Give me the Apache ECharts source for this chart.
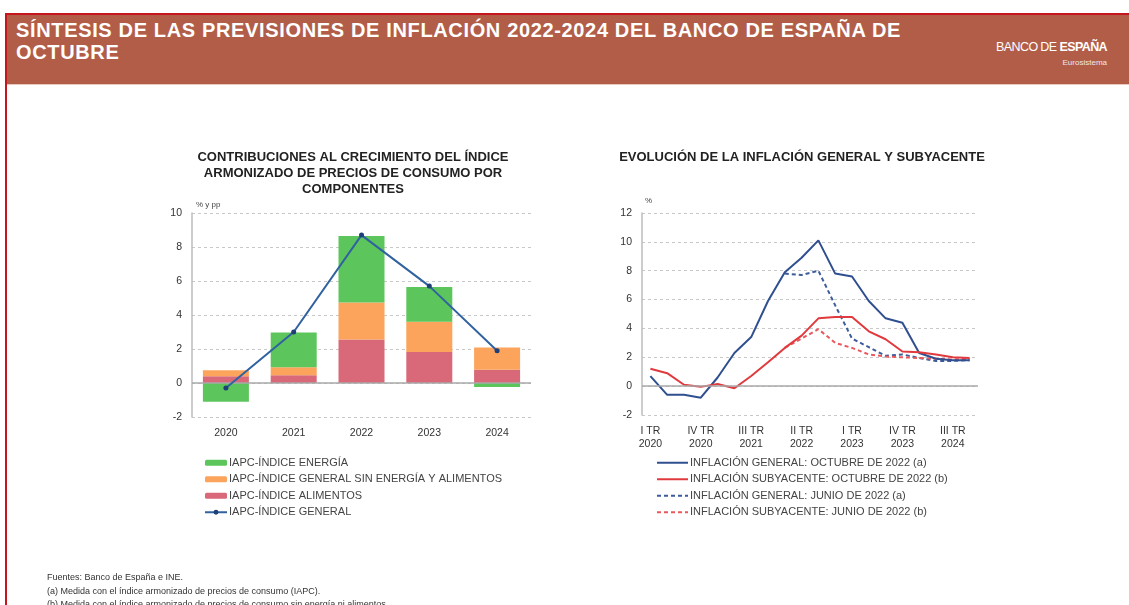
<!DOCTYPE html>
<html>
<head>
<meta charset="utf-8">
<script src="https://cdn.jsdelivr.net/npm/echarts@6/dist/echarts.min.js"></script>
<style>
  html, body { margin: 0; padding: 0; background: #fff; }
  body { width: 1129px; height: 605px; overflow: hidden; position: relative; font-family: "Liberation Sans", Arial, sans-serif; }
  .frame { position: absolute; left: 5px; top: 13px; width: 1130px; height: 600px; border-top: 2px solid #c4161c; border-left: 2px solid #c4161c; }
  .band { position: absolute; left: 7px; top: 15px; width: 1122px; height: 69px; background: #b25d48; border-bottom: 1px solid #e9c9bf; }
  .band h1 { position: absolute; left: 9px; top: 4px; margin: 0; color: #fff; font-size: 20px; line-height: 22px; font-weight: bold; letter-spacing: 0.65px; }
  .logo { position: absolute; right: 22px; top: 25px; color: #fff; font-size: 12.5px; letter-spacing: -0.6px; text-align: right; }
  .logo b { font-weight: bold; }
  .logo small { display: block; font-size: 8px; letter-spacing: 0; opacity: 0.85; margin-top: 4px; }
  #chart { position: absolute; left: 0; top: 0; width: 1129px; height: 605px; }
  .notes { position: absolute; left: 47px; top: 571px; font-size: 9px; line-height: 13.5px; color: #333; }
</style>
</head>
<body>
<div class="frame"></div>
<div class="band">
  <h1>SÍNTESIS DE LAS PREVISIONES DE INFLACIÓN 2022-2024 DEL BANCO DE ESPAÑA DE<br>OCTUBRE</h1>
  <div class="logo">BANCO DE <b>ESPAÑA</b><small>Eurosistema</small></div>
</div>
<div id="chart"></div>
<div class="notes">
  Fuentes: Banco de España e INE.<br>
  (a) Medida con el índice armonizado de precios de consumo (IAPC).<br>
  (b) Medida con el índice armonizado de precios de consumo sin energía ni alimentos.
</div>
<script>
// panel izquierdo: contribuciones (pp)
const years = ['2020', '2021', '2022', '2023', '2024'];
const alimentos = [0.4, 0.45, 2.56, 1.82, 0.78];
const sinEnergia = [0.35, 0.47, 2.18, 1.78, 1.31];
const energia = [-1.1, 2.05, 3.91, 2.04, -0.23];
const general = [-0.3, 3.0, 8.7, 5.7, 1.9];

// panel derecho: trimestres
const quarters = [
  'I TR\n2020', 'II TR\n2020', 'III TR\n2020', 'IV TR\n2020',
  'I TR\n2021', 'II TR\n2021', 'III TR\n2021', 'IV TR\n2021',
  'I TR\n2022', 'II TR\n2022', 'III TR\n2022', 'IV TR\n2022',
  'I TR\n2023', 'II TR\n2023', 'III TR\n2023', 'IV TR\n2023',
  'I TR\n2024', 'II TR\n2024', 'III TR\n2024', 'IV TR\n2024'
];
const generalOct = [0.7, -0.6, -0.6, -0.8, 0.6, 2.3, 3.4, 5.9, 7.9, 8.9, 10.1, 7.8, 7.6, 5.9, 4.7, 4.4, 2.3, 1.9, 1.8, 1.8];
const subyOct = [1.2, 0.9, 0.1, -0.05, 0.15, -0.15, 0.7, 1.65, 2.65, 3.5, 4.7, 4.8, 4.8, 3.8, 3.25, 2.4, 2.35, 2.2, 2.0, 1.95];
const generalJun = [null, null, null, null, null, null, null, null, 7.8, 7.7, 8.0, 5.6, 3.3, 2.7, 2.1, 2.2, 1.95, 1.75, 1.75, 1.8];
const subyJun = [null, null, null, null, null, null, null, null, 2.65, 3.3, 3.95, 3.0, 2.65, 2.2, 2.05, 2.0, 1.95, 1.9, 1.85, 1.9];

const chart = echarts.init(document.getElementById('chart'));

const gridLine = { show: true, lineStyle: { color: '#c8c8c8', type: [3, 3], width: 1 } };
const axisTxt = { color: '#333', fontSize: 10.5, fontFamily: 'Liberation Sans' };
const zeroLine = {
  silent: true, symbol: 'none', label: { show: false },
  lineStyle: { color: '#a9a9a9', type: 'solid', width: 1.5 },
  data: [{ yAxis: 0 }]
};
const blue = '#2f4f8f';
const red = '#e03a3e';
const legendTxt = { color: '#444', fontSize: 11, lineHeight: 11.5, padding: [0, 0, 0, -3] };

chart.setOption({
  animation: false,
  textStyle: { fontFamily: 'Liberation Sans' },
  title: [
    {
      text: 'CONTRIBUCIONES AL CRECIMIENTO DEL ÍNDICE\nARMONIZADO DE PRECIOS DE CONSUMO POR\nCOMPONENTES',
      left: 348, top: 144, textAlign: 'center',
      textStyle: { fontSize: 13, fontWeight: 'bold', color: '#222', lineHeight: 16 }
    },
    {
      text: 'EVOLUCIÓN DE LA INFLACIÓN GENERAL Y SUBYACENTE',
      left: 797, top: 144, textAlign: 'center',
      textStyle: { fontSize: 13, fontWeight: 'bold', color: '#222', lineHeight: 16 }
    }
  ],
  legend: [
    {
      left: 199, top: 452, orient: 'vertical', itemWidth: 22, itemHeight: 6, itemGap: 5,
      selectedMode: false,
      data: ['IAPC-ÍNDICE ENERGÍA', 'IAPC-ÍNDICE GENERAL SIN ENERGÍA Y ALIMENTOS', 'IAPC-ÍNDICE ALIMENTOS', 'IAPC-ÍNDICE GENERAL'],
      textStyle: legendTxt
    },
    {
      left: 651, top: 452, orient: 'vertical', itemWidth: 31, itemHeight: 6, itemGap: 5,
      selectedMode: false, itemStyle: { opacity: 0 },
      data: ['INFLACIÓN GENERAL: OCTUBRE DE 2022 (a)', 'INFLACIÓN SUBYACENTE: OCTUBRE DE 2022 (b)', 'INFLACIÓN GENERAL: JUNIO DE 2022 (a)', 'INFLACIÓN SUBYACENTE: JUNIO DE 2022 (b)'],
      textStyle: legendTxt
    }
  ],
  grid: [
    { left: 192, right: 598, top: 213, bottom: 188 },
    { left: 642, right: 151, top: 213, bottom: 190 }
  ],
  xAxis: [
    {
      gridIndex: 0, type: 'category', data: years,
      axisLine: { show: false }, axisTick: { show: false },
      axisLabel: Object.assign({ margin: 11 }, axisTxt)
    },
    {
      gridIndex: 1, type: 'category', data: quarters, boundaryGap: true,
      axisLine: { show: false }, axisTick: { show: false },
      axisLabel: Object.assign({ interval: 2, margin: 10, lineHeight: 13 }, axisTxt)
    }
  ],
  yAxis: [
    {
      gridIndex: 0, type: 'value', min: -2, max: 10, interval: 2,
      name: '% y pp', nameLocation: 'end', nameGap: 4,
      nameTextStyle: { color: '#444', fontSize: 8, align: 'left', padding: [0, 0, 0, 4] },
      axisLine: { show: true, lineStyle: { color: '#bdbdbd', width: 1.5 } },
      axisTick: { show: false },
      axisLabel: Object.assign({ margin: 10 }, axisTxt),
      splitLine: gridLine
    },
    {
      gridIndex: 1, type: 'value', min: -2, max: 12, interval: 2,
      name: '%', nameLocation: 'end', nameGap: 8,
      nameTextStyle: { color: '#444', fontSize: 8, align: 'left', padding: [0, 0, 0, 3] },
      axisLine: { show: true, lineStyle: { color: '#bdbdbd', width: 1.5 } },
      axisTick: { show: false },
      axisLabel: Object.assign({ margin: 10 }, axisTxt),
      splitLine: gridLine
    }
  ],
  series: [
    {
      name: 'IAPC-ÍNDICE ALIMENTOS', type: 'bar', stack: 'c', barWidth: 46,
      xAxisIndex: 0, yAxisIndex: 0, data: alimentos,
      itemStyle: { color: '#d96878' }, markLine: zeroLine
    },
    {
      name: 'IAPC-ÍNDICE GENERAL SIN ENERGÍA Y ALIMENTOS', type: 'bar', stack: 'c', barWidth: 46,
      xAxisIndex: 0, yAxisIndex: 0, data: sinEnergia,
      itemStyle: { color: '#fca35c' }
    },
    {
      name: 'IAPC-ÍNDICE ENERGÍA', type: 'bar', stack: 'c', barWidth: 46,
      xAxisIndex: 0, yAxisIndex: 0, data: energia,
      itemStyle: { color: '#5cc65c' }
    },
    {
      name: 'IAPC-ÍNDICE GENERAL', type: 'line', xAxisIndex: 0, yAxisIndex: 0, data: general,
      symbol: 'circle', symbolSize: 5, z: 5,
      lineStyle: { color: '#3062a0', width: 2 },
      itemStyle: { color: '#1e3f78' }
    },
    {
      name: 'INFLACIÓN GENERAL: OCTUBRE DE 2022 (a)', type: 'line', xAxisIndex: 1, yAxisIndex: 1,
      data: generalOct, symbol: 'none', z: 4,
      lineStyle: { color: blue, width: 2 }, itemStyle: { color: blue },
      markLine: zeroLine
    },
    {
      name: 'INFLACIÓN SUBYACENTE: OCTUBRE DE 2022 (b)', type: 'line', xAxisIndex: 1, yAxisIndex: 1,
      data: subyOct, symbol: 'none', z: 4,
      lineStyle: { color: red, width: 2 }, itemStyle: { color: red }
    },
    {
      name: 'INFLACIÓN GENERAL: JUNIO DE 2022 (a)', type: 'line', xAxisIndex: 1, yAxisIndex: 1,
      data: generalJun, symbol: 'none', z: 3,
      lineStyle: { color: '#3d5c9a', width: 2, type: [4, 3] }, itemStyle: { color: '#3d5c9a' }
    },
    {
      name: 'INFLACIÓN SUBYACENTE: JUNIO DE 2022 (b)', type: 'line', xAxisIndex: 1, yAxisIndex: 1,
      data: subyJun, symbol: 'none', z: 3,
      lineStyle: { color: '#e8585c', width: 2, type: [4, 3] }, itemStyle: { color: '#e8585c' }
    }
  ]
});
</script>
</body>
</html>
